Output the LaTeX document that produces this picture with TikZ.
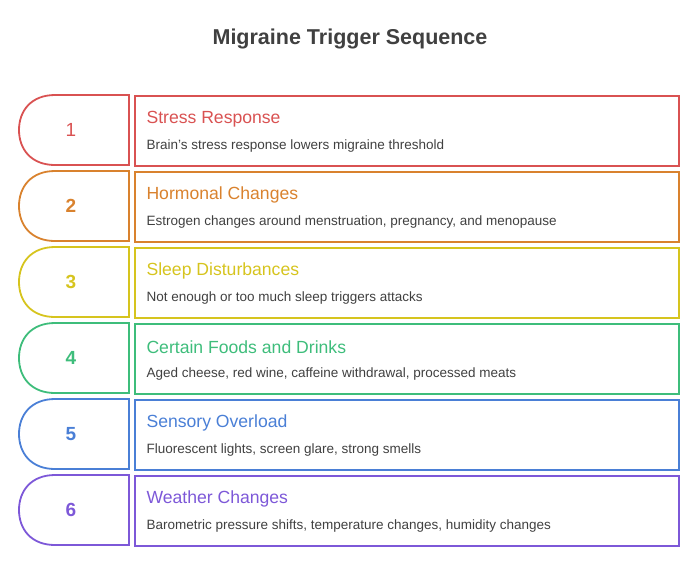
\documentclass[tikz,border=0pt]{standalone}
\usepackage{fontspec}
\setmainfont{Liberation Sans}
\usetikzlibrary{positioning}
\definecolor{cred}{HTML}{D95252}
\definecolor{corange}{HTML}{D9822E}
\definecolor{cyellow}{HTML}{D6C41E}
\definecolor{cgreen}{HTML}{3EBD7B}
\definecolor{cblue}{HTML}{4A7FD6}
\definecolor{cpurple}{HTML}{7D58D8}
\definecolor{ctext}{HTML}{404040}
\tikzset{
  card/.style={draw=#1, line width=1.8pt, minimum width=544pt, minimum height=70pt, anchor=north west},
  tab/.style={draw=#1, line width=1.8pt},
  head/.style={text=#1, font=\fontsize{17.6}{20}\selectfont, anchor=west},
  desc/.style={text=ctext, font=\fontsize{13.5}{15}\selectfont, anchor=west},
  num/.style={text=#1, font=\fontsize{19}{22}\selectfont}
}
\begin{document}
\begin{tikzpicture}[x=1pt,y=-1pt]
  \useasboundingbox (0,0) rectangle (700,566);
  \node[text=ctext, font=\fontsize{21.5}{24}\selectfont\bfseries] (title) at (350,39) {Migraine Trigger Sequence};
  \foreach \i/\c/\h/\d [count=\k from 0] in {
      1/cred/Stress Response/Brain's stress response lowers migraine threshold,
      2/corange/Hormonal Changes/{Estrogen changes around menstruation, pregnancy, and menopause},
      3/cyellow/Sleep Disturbances/Not enough or too much sleep triggers attacks,
      4/cgreen/Certain Foods and Drinks/{Aged cheese, red wine, caffeine withdrawal, processed meats},
      5/cblue/Sensory Overload/{Fluorescent lights, screen glare, strong smells},
      6/cpurple/Weather Changes/{Barometric pressure shifts, temperature changes, humidity changes}} {
    \pgfmathsetmacro{\y}{95+76*\k}
    \draw[tab=\c] (129,\y) -- (55,\y) .. controls (31,\y) and (19,\y+16) .. (19,\y+35)
      .. controls (19,\y+54) and (31,\y+70) .. (55,\y+70) -- (129,\y+70) -- cycle;
    \node[num=\c] (n\i) at (71,\y+35) {\ifnum\i>1 \bfseries\fi\i};
    \node[card=\c] (box\i) at (134,\y) {};
    \node[head=\c] (h\i) at (143,\y+24) {\h};
    \node[desc] (d\i) at (143,\y+51) {\d};
  }
\end{tikzpicture}
\end{document}
